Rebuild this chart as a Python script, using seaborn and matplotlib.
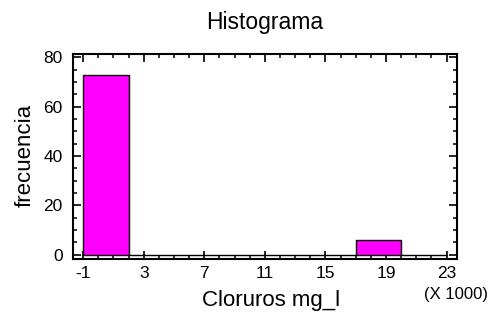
import matplotlib
matplotlib.use("Agg")
import matplotlib.pyplot as plt
from matplotlib.ticker import MultipleLocator, FixedLocator
import numpy as np
import seaborn as sns

# Histogram of chloride concentration (thousands of mg/l)
bin_edges = [-1, 2, 5, 8, 11, 14, 17, 20, 23]
counts = [73, 0, 0, 0, 0, 0, 6, 0]
x_ticks = [-1, 3, 7, 11, 15, 19, 23]
y_ticks = [0, 20, 40, 60, 80]

sns.set_style("ticks")
plt.rcParams["font.family"] = ["Liberation Sans", "DejaVu Sans"]
plt.rcParams["axes.unicode_minus"] = False

bin_centers = [(a + b) / 2 for a, b in zip(bin_edges[:-1], bin_edges[1:])]

fig = plt.figure(figsize=(4.9, 3.2), dpi=100)
ax = fig.add_axes([0.148, 0.192, 0.785, 0.638])

sns.histplot(x=bin_centers, weights=counts, bins=bin_edges, ax=ax,
             color="#FF00FF", edgecolor="black", linewidth=1.0, alpha=1.0)

ax.set_xlim(-1.7, 23.7)
ax.set_ylim(-1.6, 81.2)
ax.xaxis.set_major_locator(FixedLocator(x_ticks))
ax.xaxis.set_minor_locator(MultipleLocator(1))
ax.yaxis.set_major_locator(FixedLocator(y_ticks))
ax.yaxis.set_minor_locator(MultipleLocator(5))

for side in ax.spines.values():
    side.set_visible(True)
    side.set_linewidth(1.5)
    side.set_color("black")

ax.tick_params(which="both", direction="in", top=True, right=True,
               color="black", labelcolor="black")
ax.tick_params(which="major", length=5.5, width=1.2, labelsize=12.5)
ax.tick_params(axis="x", which="major", pad=5)
ax.tick_params(axis="y", which="major", pad=7)
ax.tick_params(which="minor", length=2.8, width=1.1)

ax.set_title("Histograma", fontsize=16.5, pad=18, color="black")
ax.set_xlabel("Cloruros mg_l", fontsize=16, va="center", color="black")
ax.xaxis.set_label_coords(0.517, -0.206)
ax.set_ylabel("frecuencia", fontsize=16, va="center", color="black")
ax.yaxis.set_label_coords(-0.124, 0.507)
ax.text(0.997, -0.174, "(X 1000)", transform=ax.transAxes,
        ha="center", va="center", fontsize=12, color="black")

fig.savefig("out.png", dpi=100)
